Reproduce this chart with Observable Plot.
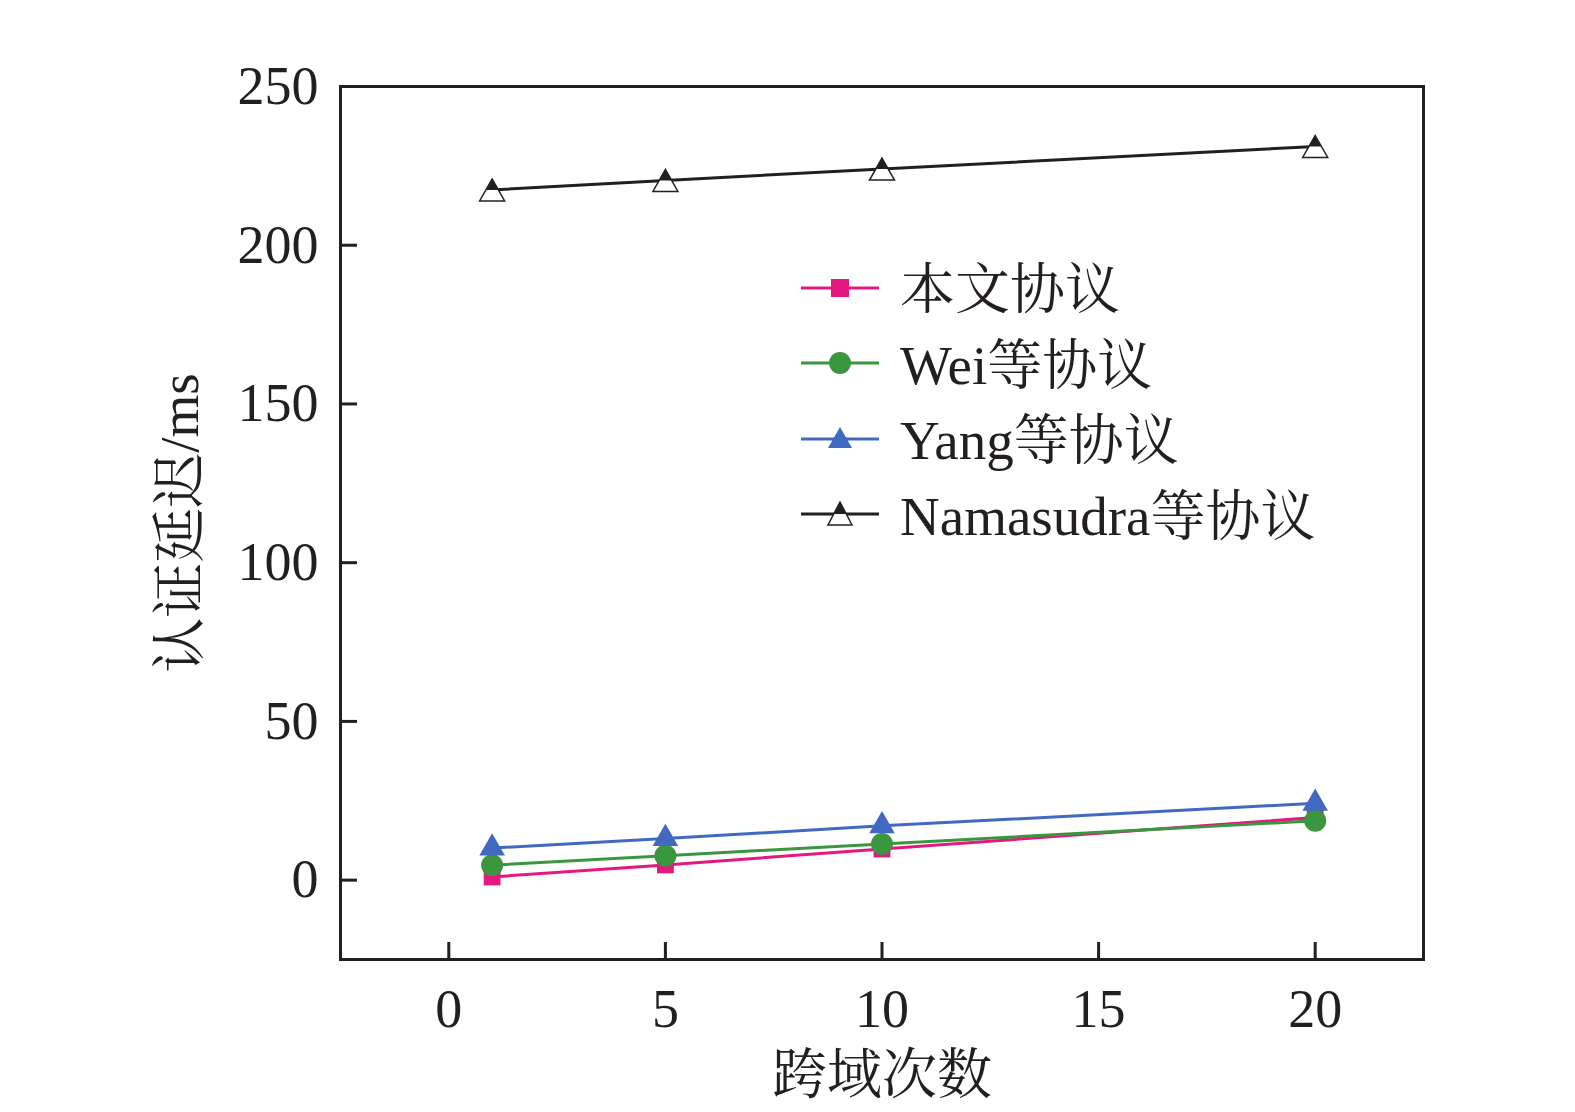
<!DOCTYPE html>
<html>
<head>
<meta charset="utf-8">
<script src="https://cdn.jsdelivr.net/npm/d3@7"></script>
<script src="https://cdn.jsdelivr.net/npm/@observablehq/plot@0.6"></script>
<style>
  html, body { margin: 0; padding: 0; background: #fff; }
  #wrap { position: relative; width: 1575px; height: 1112px; }
  #legend { position: absolute; left: 801px; top: 250px; font-family: "Liberation Serif", "Noto Serif CJK SC", "Noto Sans CJK SC", serif; font-size: 55px; color: #231F20; }
  .row { display: flex; align-items: center; height: 75.5px; }
  .row svg { width: 78px; height: 40px; margin-right: 21px; }
  .row span { position: relative; top: -3px; }
</style>
</head>
<body>
<div id="wrap"><div id="legend"></div></div>
<script>
const hops = [1, 5, 10, 20];
const seriesNames = ["本文协议", "Wei等协议", "Yang等协议", "Namasudra等协议"];
const oursValues = [1, 4.8, 9.8, 19.7];
const weiValues = [4.7, 7.7, 11.4, 18.7];
const yangValues = [10.1, 13.1, 17.1, 24.2];
const namasudraValues = [217.4, 220.4, 224.0, 231.1];
const xTicks = [0, 5, 10, 15, 20];
const yTicks = [0, 50, 100, 150, 200, 250];
const colors = ["#E6177E", "#3B9640", "#4169C1", "#231F20"];
const xTitle = "跨域次数";
const yTitle = "认证延迟/ms";

const allValues = [oursValues, weiValues, yangValues, namasudraValues];
const rows = [];
seriesNames.forEach((s, i) => hops.forEach((h, j) => rows.push({series: s, hop: h, value: allValues[i][j]})));
const sel = name => rows.filter(d => d.series === name);

// custom half-filled triangle symbols (centered at mid-height)
const triOutline = { draw(ctx, size) { const r = Math.sqrt(size / Math.PI); const h = 2.2 * r, w = 2.5 * r;
  ctx.moveTo(0, -h / 2); ctx.lineTo(w / 2, h / 2); ctx.lineTo(-w / 2, h / 2); ctx.closePath(); } };
const triTop = { draw(ctx, size) { const r = Math.sqrt(size / Math.PI); const h = 2.2 * r, w = 2.5 * r;
  ctx.moveTo(0, -h / 2); ctx.lineTo(w / 4, 0); ctx.lineTo(-w / 4, 0); ctx.closePath(); } };

const font = '"Liberation Serif", "Noto Serif CJK SC", "Noto Sans CJK SC", serif';

const plot = Plot.plot({
  width: 1575, height: 1112,
  marginLeft: 340, marginRight: 152, marginTop: 86, marginBottom: 153,
  style: { fontFamily: font, color: "#231F20", background: "transparent" },
  x: { domain: [-2.5, 22.5], ticks: xTicks },
  y: { domain: [-25, 250], ticks: yTicks },
  marks: [
    Plot.frame({ stroke: "#231F20", strokeWidth: 3 }),
    Plot.axisX({ ticks: xTicks, tickSize: -17, strokeWidth: 3, tickFormat: () => "", label: null }),
    Plot.axisY({ ticks: yTicks, tickSize: -17, strokeWidth: 3, tickFormat: () => "", label: null }),
    Plot.axisX({ ticks: xTicks, tickSize: 0, tickPadding: 29, fontSize: 54, label: null }),
    Plot.axisY({ ticks: yTicks, tickSize: 0, tickPadding: 22, fontSize: 54, label: null }),
    Plot.text([xTitle], { text: d => d, frameAnchor: "bottom", dy: 116, fontSize: 55, lineAnchor: "middle", textAnchor: "middle" }),
    Plot.text([yTitle], { text: d => d, frameAnchor: "left", dx: -160, rotate: -90, fontSize: 55, lineAnchor: "middle", textAnchor: "middle" }),
    Plot.line(sel(seriesNames[0]), { x: "hop", y: "value", stroke: colors[0], strokeWidth: 3 }),
    Plot.line(sel(seriesNames[1]), { x: "hop", y: "value", stroke: colors[1], strokeWidth: 3 }),
    Plot.line(sel(seriesNames[2]), { x: "hop", y: "value", stroke: colors[2], strokeWidth: 3 }),
    Plot.line(sel(seriesNames[3]), { x: "hop", y: "value", stroke: colors[3], strokeWidth: 3 }),
    Plot.dot(sel(seriesNames[0]), { x: "hop", y: "value", symbol: "square", r: 9.5, fill: colors[0] }),
    Plot.dot(sel(seriesNames[1]), { x: "hop", y: "value", symbol: "circle", r: 11, fill: colors[1] }),
    Plot.dot(sel(seriesNames[2]), { x: "hop", y: "value", symbol: "triangle", r: 9.5, fill: colors[2] }),
    Plot.dot(sel(seriesNames[3]), { x: "hop", y: "value", symbol: triOutline, r: 10, fill: "#fff", stroke: colors[3], strokeWidth: 1.5 }),
    Plot.dot(sel(seriesNames[3]), { x: "hop", y: "value", symbol: triTop, r: 10, fill: colors[3] })
  ]
});
document.getElementById("wrap").appendChild(plot);
plot.style.position = "absolute"; plot.style.left = "0"; plot.style.top = "0";

// legend
const legend = d3.select("#legend");
const sym = [
  '<rect x="30" y="11" width="18" height="18" fill="COL"/>',
  '<circle cx="39" cy="20" r="11" fill="COL"/>',
  '<path d="M39,8 L51,29 L27,29 Z" fill="COL"/>',
  '<path d="M39,8 L51,31 L27,31 Z" fill="#fff" stroke="COL" stroke-width="1.5"/><path d="M39,8 L45,20 L33,20 Z" fill="COL"/>'
];
seriesNames.forEach((name, i) => {
  const row = legend.append("div").attr("class", "row");
  row.append("svg").attr("viewBox", "0 0 78 40").html(
    `<line x1="0" x2="78" y1="20" y2="20" stroke="${colors[i]}" stroke-width="3"/>` + sym[i].replace(/COL/g, colors[i]));
  row.append("span").text(name);
});
</script>
</body>
</html>
